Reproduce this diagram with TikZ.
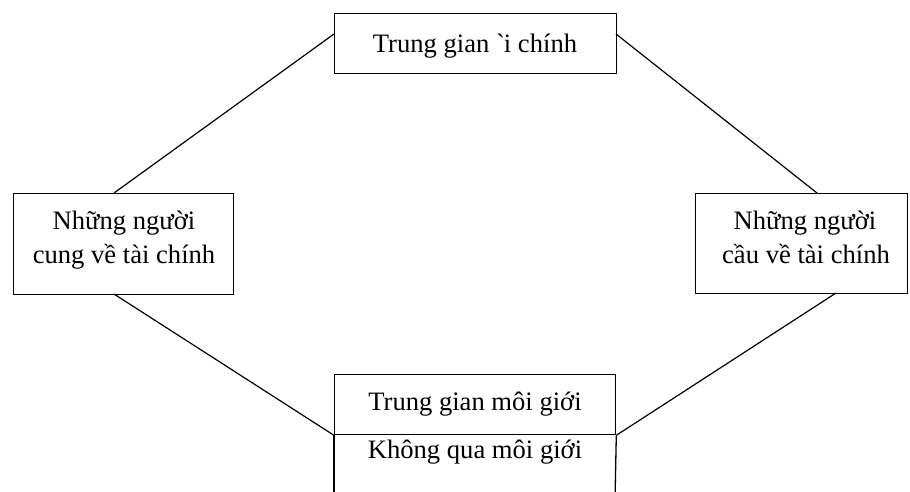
\documentclass[tikz,border=0pt]{standalone}
\usepackage{fontspec}
\setmainfont{Liberation Serif}
\newfontfamily\rawserif[Ligatures=TeXOff]{Liberation Serif}
\begin{document}
\begin{tikzpicture}[x=1pt,y=-1pt,
  box/.style={draw,line width=1.3pt,inner sep=0pt,anchor=north west},
  conn/.style={line width=1.2pt},
  lbl/.style={font=\fontsize{26.6}{34}\selectfont,inner sep=0pt,anchor=base}]
\useasboundingbox (0,0) rectangle (910,491);
% boxes
\node[box,minimum width=282pt,minimum height=60pt] (tg) at (334,13) {};
\node[box,minimum width=220pt,minimum height=101pt] (cung) at (13,193) {};
\node[box,minimum width=212pt,minimum height=100pt] (cau) at (695,193) {};
\node[box,minimum width=281pt,minimum height=60pt] (mg) at (334,374) {};
\coordinate (kqL) at (334,500);
\coordinate (kqR) at (615,500);
\draw[line width=1.3pt] (mg.south west) -- (kqL);
\draw[line width=1.3pt] (mg.south east) -- (kqR);
% texts
\node[lbl] (tgt) at (475,52) {Trung gian {\rawserif\symbol{"60}}\kern-1pt i chính};
\node[lbl] (cung1) at (124,229) {Những người};
\node[lbl] (cung2) at (124,263) {cung về tài chính};
\node[lbl] (cau1) at (805,229) {Những người};
\node[lbl] (cau2) at (806,263) {cầu về tài chính};
\node[lbl] (mgt) at (475,410) {Trung gian môi giới};
\node[lbl] (kqt) at (475,458) {Không qua môi giới};
% attachment points
\coordinate (tgL) at (334,34);
\coordinate (tgR) at (616,34);
\coordinate (cungT) at (114,193);
\coordinate (cungB) at (114,294);
\coordinate (cauT) at (817,193);
\coordinate (cauB) at (836,293);
% connectors
\draw[conn] (tgL) -- (cungT);
\draw[conn] (tgR) -- (cauT);
\draw[conn] (cungB) -- (mg.south west);
\draw[conn] (cauB) -- (mg.south east);
\end{tikzpicture}
\end{document}
